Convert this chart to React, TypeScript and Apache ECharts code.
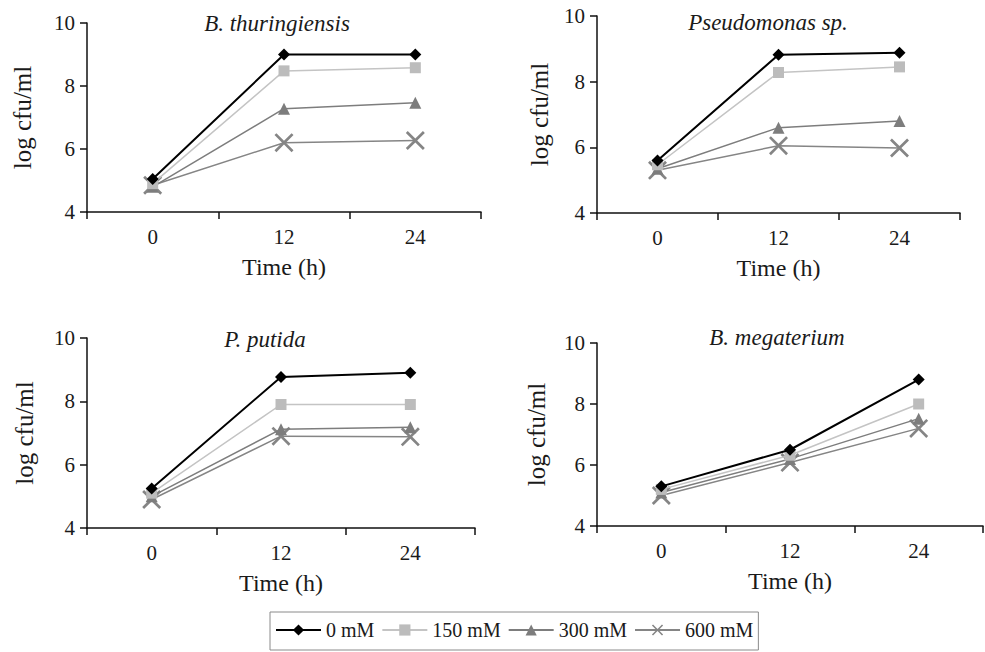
import React, { useEffect, useRef } from "react";
import * as echarts from "echarts";

const timeLabels = ["0", "12", "24"];
const seriesNames = ["0 mM", "150 mM", "300 mM", "600 mM"];
const panelTitles = ["B. thuringiensis", "Pseudomonas sp.", "P. putida", "B. megaterium"];
const yTicks = [4, 6, 8, 10];

// values per panel: rows = series (0, 150, 300, 600 mM), cols = time (0, 12, 24 h)
const bThuringiensisValues = [
  [5.05, 9.0, 9.0],
  [4.9, 8.48, 8.58],
  [4.8, 7.28, 7.47],
  [4.85, 6.2, 6.27],
];
const pseudomonasValues = [
  [5.6, 8.82, 8.88],
  [5.47, 8.28, 8.45],
  [5.35, 6.6, 6.8],
  [5.3, 6.05, 5.98],
];
const pPutidaValues = [
  [5.25, 8.77, 8.9],
  [5.1, 7.9, 7.9],
  [5.0, 7.12, 7.18],
  [4.9, 6.9, 6.88],
];
const bMegateriumValues = [
  [5.3, 6.5, 8.8],
  [5.2, 6.32, 8.0],
  [5.1, 6.2, 7.52],
  [5.0, 6.08, 7.2],
];

const panelValues = [bThuringiensisValues, pseudomonasValues, pPutidaValues, bMegateriumValues];

const FONT = "Liberation Serif";
const TXT = "#1a1a1a";

const grids = [
  { left: 87, top: 23, width: 394, height: 189 },
  { left: 597, top: 16, width: 363, height: 197 },
  { left: 87, top: 338, width: 388, height: 190 },
  { left: 597, top: 343, width: 386, height: 183 },
];
const titlePos = [
  [277, 23],
  [768, 22],
  [265, 339],
  [777, 337],
];
const yNameGaps = [52, 45, 50, 48];

const X_SYMBOL =
  "path://M1,0 L5,4 L9,0 L10,1 L6,5 L10,9 L9,10 L5,6 L1,10 L0,9 L4,5 L0,1 Z";

const seriesStyles = [
  { symbol: "diamond", symbolSize: 12, color: "#000000", line: "#000000", width: 2 },
  { symbol: "rect", symbolSize: 11, color: "#bcbcbc", line: "#c4c4c4", width: 1.5 },
  { symbol: "triangle", symbolSize: 12, color: "#7d7d7d", line: "#7d7d7d", width: 1.5 },
  { symbol: X_SYMBOL, symbolSize: 19, color: "#858585", line: "#858585", width: 1.5 },
];

export default function App() {
  const ref = useRef<HTMLDivElement>(null);
  useEffect(() => {
    document.body.style.margin = "0";
    if (!ref.current) return;
    const chart = echarts.init(ref.current, undefined, { renderer: "svg" });

    const xAxis = grids.map((_, i) => ({
      type: "category",
      gridIndex: i,
      data: timeLabels,
      boundaryGap: true,
      name: "Time (h)",
      nameLocation: "middle",
      nameGap: 43,
      nameTextStyle: { fontFamily: FONT, fontSize: 24, color: TXT },
      axisLine: { lineStyle: { color: "#111", width: 1.5 } },
      axisTick: { show: true, length: 7, alignWithLabel: false, lineStyle: { color: "#111", width: 1.5 } },
      axisLabel: { fontFamily: FONT, fontSize: 21, color: TXT, margin: 14 },
      splitLine: { show: false },
    }));

    const yAxis = grids.map((_, i) => ({
      type: "value",
      gridIndex: i,
      min: yTicks[0],
      max: yTicks[yTicks.length - 1],
      interval: 2,
      name: "log cfu/ml",
      nameLocation: "middle",
      nameGap: yNameGaps[i],
      nameRotate: 90,
      nameTextStyle: { fontFamily: FONT, fontSize: 25, color: TXT },
      axisLine: { show: true, lineStyle: { color: "#111", width: 1.5 } },
      axisTick: { show: true, length: 7, lineStyle: { color: "#111", width: 1.5 } },
      axisLabel: { fontFamily: FONT, fontSize: 21, color: TXT, margin: 12 },
      splitLine: { show: false },
    }));

    const series: any[] = [];
    panelValues.forEach((vals, p) => {
      vals.forEach((row, s) => {
        const st = seriesStyles[s];
        series.push({
          type: "line",
          name: seriesNames[s],
          xAxisIndex: p,
          yAxisIndex: p,
          data: row,
          symbol: st.symbol,
          symbolSize: st.symbolSize,
          showAllSymbol: true,
          z: 10 - s,
          itemStyle: { color: st.color },
          lineStyle: { color: st.line, width: st.width },
        });
      });
    });

    const graphic = panelTitles.map((t, i) => ({
      type: "text",
      x: titlePos[i][0],
      y: titlePos[i][1],
      style: {
        text: t,
        fontFamily: FONT,
        fontSize: 23,
        fontStyle: "italic",
        fill: TXT,
        align: "center",
        verticalAlign: "middle",
      },
    }));

    chart.setOption({
      animation: false,
      backgroundColor: "#ffffff",
      textStyle: { fontFamily: FONT },
      grid: grids.map((g) => ({ ...g, containLabel: false })),
      xAxis,
      yAxis,
      series,
      graphic,
      legend: {
        data: seriesNames,
        left: 270,
        top: 612,
        orient: "horizontal",
        itemWidth: 45,
        itemHeight: 14,
        itemGap: 7,
        padding: [8, 5, 10, 5],
        borderColor: "#8a8a8a",
        borderWidth: 1,
        textStyle: { fontFamily: FONT, fontSize: 20, color: TXT },
      },
    });
    return () => chart.dispose();
  }, []);
  return <div ref={ref} style={{ width: 985, height: 652 }} />;
}
